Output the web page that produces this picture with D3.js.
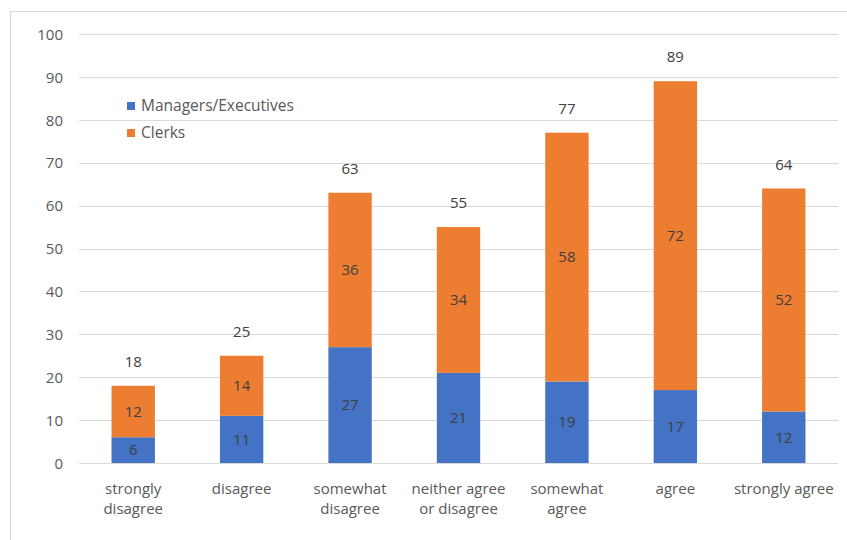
<!DOCTYPE html>
<html><head><meta charset="utf-8">
<script src="https://cdn.jsdelivr.net/npm/d3@7"></script>
<style>body{margin:0;background:#fff}svg{display:block}</style>
</head><body>
<script>
const categories = [["strongly","disagree"],["disagree"],["somewhat","disagree"],["neither agree","or disagree"],["somewhat","agree"],["agree"],["strongly agree"]];
const managers = [6, 11, 27, 21, 19, 17, 12];
const clerks = [12, 14, 36, 34, 58, 72, 52];
const totals = [18, 25, 63, 55, 77, 89, 64];
const seriesNames = ["Managers/Executives", "Clerks"];
const colors = ["#4472C4", "#ED7D31"];
const yTicks = [0,10,20,30,40,50,60,70,80,90,100];

const W = 847, H = 540;
const font = "'Open Sans', Lato, sans-serif";
const fs = 15;
const svg = d3.select("body").append("svg").attr("width", W).attr("height", H);
svg.append("rect").attr("x",10.5).attr("y",11.5).attr("width",W).attr("height",H)
  .attr("fill","#fff").attr("stroke","#d9d9d9");

const keys = categories.map((c,i)=>i);
const x = d3.scaleBand().domain(keys).range([79, 838]).paddingInner(0.6).paddingOuter(0.3);
const y = d3.scaleLinear().domain([0,100]).range([463, 34]);

const g = svg.append("g");
g.selectAll("line.grid").data(yTicks).join("line")
  .attr("x1",79).attr("x2",838).attr("y1",d=>Math.round(y(d))+0.5).attr("y2",d=>Math.round(y(d))+0.5)
  .attr("stroke","#d9d9d9").attr("stroke-width",1);

const yAxis = d3.axisLeft(y).tickValues(yTicks).tickSize(0).tickPadding(0);
const ya = svg.append("g").attr("transform","translate(63,0)").call(yAxis);
ya.select(".domain").remove();
ya.selectAll("text").attr("font-family",font).attr("font-size",fs).attr("fill","#595959").attr("dy","0.35em");

const data = keys.map(i=>({i, m: managers[i], c: clerks[i]}));
const stack = d3.stack().keys(["m","c"])(data);
stack.forEach((layer, li) => {
  g.selectAll(null).data(layer).join("rect")
    .attr("x", d=>x(d.data.i)).attr("width", x.bandwidth())
    .attr("y", d=>y(d[1])).attr("height", d=>y(d[0])-y(d[1]))
    .attr("fill", colors[li]);
  g.selectAll(null).data(layer).join("text")
    .attr("x", d=>x(d.data.i)+x.bandwidth()/2)
    .attr("y", d=>(y(d[0])+y(d[1]))/2)
    .attr("dy","0.35em").attr("text-anchor","middle")
    .attr("font-family",font).attr("font-size",fs).attr("fill","#404040")
    .text(d=>d[1]-d[0]);
});
g.selectAll(null).data(keys).join("text")
  .attr("x", i=>x(i)+x.bandwidth()/2).attr("y", i=>y(totals[i])-24)
  .attr("dy","0.35em").attr("text-anchor","middle")
  .attr("font-family",font).attr("font-size",fs).attr("fill","#404040")
  .text(i=>totals[i]);

const xl = g.selectAll(null).data(keys).join("text")
  .attr("x", i=>x(i)+x.bandwidth()/2).attr("y", 494)
  .attr("text-anchor","middle").attr("font-family",font).attr("font-size",fs).attr("fill","#595959");
xl.selectAll("tspan").data(i=>categories[i]).join("tspan")
  .attr("x", function(){return this.parentNode.getAttribute("x");})
  .attr("dy",(d,j)=>j===0?0:20).text(d=>d);

const leg = svg.append("g");
seriesNames.forEach((n,k)=>{
  leg.append("rect").attr("x",127).attr("y",102+k*27).attr("width",8).attr("height",8).attr("fill",colors[k]);
  leg.append("text").attr("x",141).attr("y",106+k*27).attr("dy","0.35em")
    .attr("font-family",font).attr("font-size",15.5).attr("fill","#595959").text(n);
});
</script>
</body></html>
